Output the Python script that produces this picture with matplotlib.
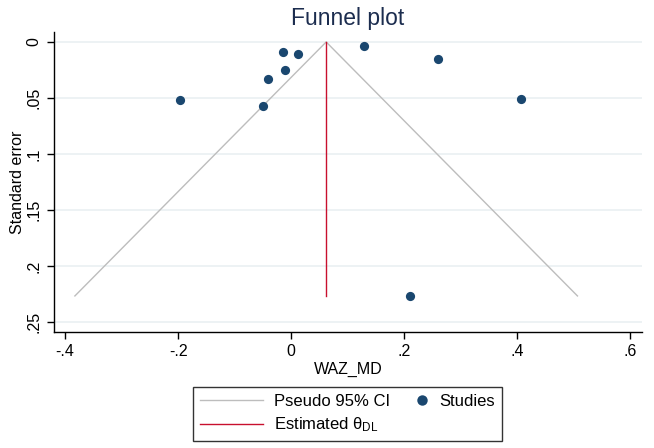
import matplotlib
matplotlib.use("Agg")
import matplotlib.pyplot as plt
from matplotlib.legend_handler import HandlerBase
from matplotlib.lines import Line2D
import numpy as np

plt.rcParams['font.family'] = ['Liberation Sans', 'DejaVu Sans']
plt.rcParams['mathtext.fontset'] = 'custom'
plt.rcParams['mathtext.rm'] = 'Liberation Sans'
plt.rcParams['mathtext.it'] = 'Liberation Sans'

# Study data (effect size, standard error)
effect = [-0.0142, 0.0115, -0.0106, -0.0402, -0.0504, -0.1965, 0.129, 0.259, 0.407, 0.2106]
se = [0.0087, 0.011, 0.0253, 0.0333, 0.0574, 0.0518, 0.0033, 0.0152, 0.0509, 0.2268]
theta = 0.062
se_max = 0.2268
x_ticks = [-0.4, -0.2, 0, 0.2, 0.4, 0.6]
x_tick_labels = ["-.4", "-.2", "0", ".2", ".4", ".6"]
y_ticks = [0, 0.05, 0.1, 0.15, 0.2, 0.25]
y_tick_labels = ["0", ".05", ".1", ".15", ".2", ".25"]

MARKER_COLOR = '#1a476f'


class RightMarkerHandler(HandlerBase):
    def create_artists(self, legend, orig_handle, xdescent, ydescent,
                       width, height, fontsize, trans):
        x = width - xdescent - 5
        y = height / 2 - ydescent
        ln = Line2D([x], [y], marker='o', markersize=7.5, color=MARKER_COLOR,
                    markeredgewidth=0, linestyle='none', transform=trans)
        return [ln]


fig = plt.figure(figsize=(6.54, 4.48), dpi=100)
ax = fig.add_axes([54/654, 1-332/448, (642-54)/654, (332-32)/448])

# gridlines
for yt in y_ticks:
    ax.axhline(yt, color='#eaf0f2', lw=1.2, zorder=0)

# pseudo CI funnel
ci_se = [se_max, 0, se_max]
ci_x = [theta - 1.96*se_max, theta, theta + 1.96*se_max]
l1, = ax.plot(ci_x, ci_se, color='#bdbdbd', lw=1.0, zorder=2, label='Pseudo 95% CI')
l2, = ax.plot([theta, theta], [0, se_max], color='#c8102e', lw=1.0, zorder=3,
              label=r'Estimated $\theta_{\mathrm{DL}}$')
sc = ax.scatter(effect, se, s=44, color=MARKER_COLOR, zorder=4, label='Studies', linewidths=0)

ax.set_xlim(-0.4195, 0.6207)
ax.set_ylim(0.259, -0.0089)
ax.set_xticks(x_ticks)
ax.set_xticklabels(x_tick_labels)
ax.set_yticks(y_ticks)
ax.set_yticklabels(y_tick_labels, rotation=90, va='center')
ax.tick_params(axis='both', labelsize=11.5, length=5, width=1, color='black', direction='out')
ax.tick_params(axis='y', pad=4)
for s in ['top', 'right']:
    ax.spines[s].set_visible(False)
for s in ['left', 'bottom']:
    ax.spines[s].set_linewidth(1.0)

ax.set_xlabel('WAZ_MD', fontsize=11.5, labelpad=2)
ax.set_ylabel('Standard error', fontsize=11.5, labelpad=1)
ax.set_title('Funnel plot', fontsize=16.5, color='#1c2d4f', pad=5)

leg = fig.legend(handles=[l1, l2, sc], loc='center', ncol=2,
                 bbox_to_anchor=((193+502)/2/654, 1-(387+441)/2/448),
                 fontsize=12, frameon=True, fancybox=False, edgecolor='black',
                 handlelength=3.8, handletextpad=0.66, columnspacing=-1.5,
                 borderpad=0.4, labelspacing=0.42,
                 handler_map={sc: RightMarkerHandler()})
leg.get_frame().set_linewidth(1.0)

fig.savefig('out.png', dpi=100, facecolor='white')
